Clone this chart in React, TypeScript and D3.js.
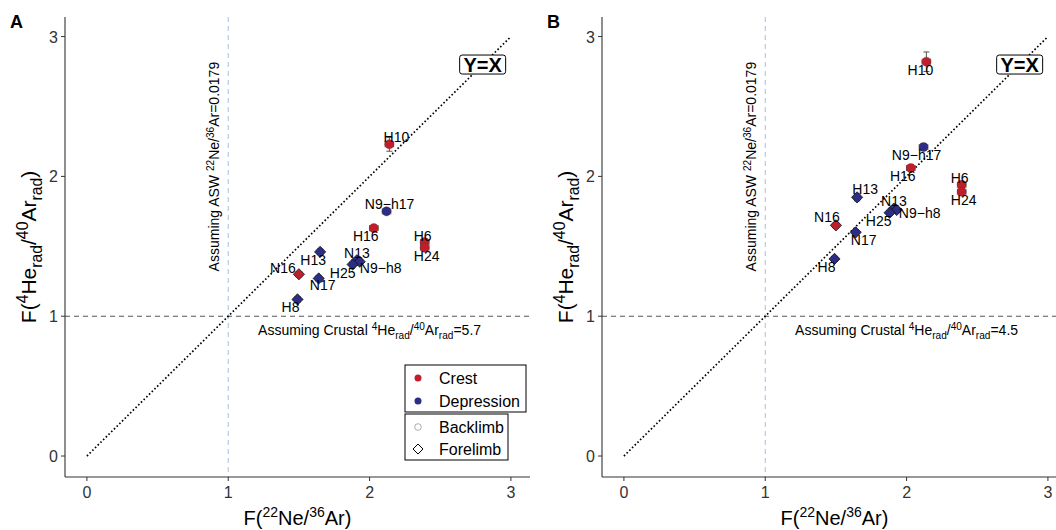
import React from "react";
import * as d3 from "d3";

// sample data
const samples = ["H10", "N9−h17", "H16", "H6", "H24", "H13", "N13", "N9−h8", "H25", "N16", "N17", "H8"];
const location = ["Crest", "Depression", "Crest", "Crest", "Crest", "Depression", "Depression", "Depression", "Depression", "Crest", "Depression", "Depression"];
const limb = ["Backlimb", "Backlimb", "Backlimb", "Backlimb", "Backlimb", "Forelimb", "Forelimb", "Forelimb", "Forelimb", "Forelimb", "Forelimb", "Forelimb"];
const fNe = [2.14, 2.12, 2.03, 2.39, 2.39, 1.65, 1.91, 1.93, 1.88, 1.5, 1.64, 1.49];
const fNeErr = [0.03, 0.03, 0.03, 0.03, 0.03, 0.02, 0.02, 0.02, 0.02, 0.02, 0.02, 0.02];
const fHeA = [2.23, 1.75, 1.63, 1.53, 1.49, 1.46, 1.4, 1.39, 1.37, 1.3, 1.27, 1.12];
const fHeB = [2.82, 2.21, 2.06, 1.94, 1.89, 1.85, 1.77, 1.76, 1.74, 1.65, 1.6, 1.41];
const fHeErrA = [0.05, 0.02, 0.02, 0.02, 0.02, 0.02, 0.01, 0.01, 0.01, 0.01, 0.01, 0.01];
const fHeErrB = [0.07, 0.025, 0.025, 0.025, 0.025, 0.025, 0.015, 0.015, 0.015, 0.015, 0.015, 0.015];
const ticks = [0, 1, 2, 3];

// label nudges in px (repel-like placement)
const nudgeA: Record<string, [number, number]> = {
  "H10": [7, -7], "N9−h17": [3, -7], "H16": [-8, 8], "H6": [-2, -6], "H24": [2, 8], "H13": [-7, 8],
  "N13": [0, -7], "N9−h8": [21, 6], "H25": [-10, 9], "N16": [-16, -6], "N17": [4, 7], "H8": [-7, 8],
};
const nudgeB: Record<string, [number, number]> = {
  "H10": [-6, 8], "N9−h17": [-7, 8], "H16": [-8, 8], "H6": [-2, -7], "H24": [2, 8], "H13": [8, -8],
  "N13": [0, -8], "N9−h8": [23, 3], "H25": [-11, 8], "N16": [-9, -8], "N17": [8, 8], "H8": [-8, 8],
};

const colors: Record<string, string> = { Crest: "#BF1E2B", Depression: "#2C2D84" };
const FONT = "'Liberation Sans', Arial, Helvetica, sans-serif";

type Seg = { t: string; s?: "sup" | "sub" };

function Rich({ segs, fs, k = 0.7, ...rest }: { segs: Seg[]; fs: number; k?: number; [key: string]: any }) {
  let cur = 0;
  return (
    <text fontSize={fs} fontFamily={FONT} {...rest}>
      {segs.map((g, i) => {
        const target = g.s === "sup" ? -0.38 * fs : g.s === "sub" ? 0.28 * fs : 0;
        const dy = target - cur;
        cur = target;
        return (
          <tspan key={i} dy={dy} fontSize={g.s ? fs * k : fs}>
            {g.t}
          </tspan>
        );
      })}
    </text>
  );
}

const neTitle: Seg[] = [{ t: "F(" }, { t: "22", s: "sup" }, { t: "Ne/" }, { t: "36", s: "sup" }, { t: "Ar)" }];
const heTitle: Seg[] = [
  { t: "F(" }, { t: "4", s: "sup" }, { t: "He" }, { t: "rad", s: "sub" }, { t: "/" },
  { t: "40", s: "sup" }, { t: "Ar" }, { t: "rad", s: "sub" }, { t: ")" },
];
const aswNote: Seg[] = [{ t: "Assuming ASW " }, { t: "22", s: "sup" }, { t: "Ne/" }, { t: "36", s: "sup" }, { t: "Ar=0.0179" }];
const crustNote = (v: string): Seg[] => [
  { t: "Assuming Crustal " }, { t: "4", s: "sup" }, { t: "He" }, { t: "rad", s: "sub" }, { t: "/" },
  { t: "40", s: "sup" }, { t: "Ar" }, { t: "rad", s: "sub" }, { t: "=" + v },
];

function diamond(cx: number, cy: number, r: number) {
  return `M${cx},${cy - r}L${cx + r},${cy}L${cx},${cy + r}L${cx - r},${cy}Z`;
}

function Panel({ left, letter, yVals, yErr, crustal, nudge, legend }: {
  left: number; letter: string; yVals: number[]; yErr: number[]; crustal: string;
  nudge: Record<string, [number, number]>; legend: boolean;
}) {
  const x = d3.scaleLinear().domain([-0.155, 3.135]).range([left, left + 465]);
  const y = d3.scaleLinear().domain([-0.15, 3.14]).range([477, 17]);
  const [x0, x1] = x.range();
  const [yb, yt] = y.range();
  const cap = 3;
  return (
    <g>
      <text x={left - 55} y={28} fontSize={18} fontWeight="bold" fontFamily={FONT}>{letter}</text>
      {/* reference lines */}
      <line x1={x(1)} x2={x(1)} y1={yt} y2={yb} stroke="#A9BFD8" strokeDasharray="5,4" strokeWidth={1} />
      <line x1={x0} x2={x1} y1={y(1)} y2={y(1)} stroke="#555" strokeDasharray="5,4" strokeWidth={1.1} />
      <line x1={x(0)} y1={y(0)} x2={x(3)} y2={y(3)} stroke="#000" strokeDasharray="1.6,2.2" strokeWidth={1.7} />
      <Rich segs={aswNote} fs={14} k={0.72} textAnchor="middle" transform={`translate(${x(0.9) + 5},${y(2.07)}) rotate(-90)`} />
      <Rich segs={crustNote(crustal)} fs={14} k={0.72} textAnchor="middle" x={x(2)} y={y(0.9) + 5} />
      {/* Y=X label */}
      <rect x={x(2.8) - 23} y={y(2.8) - 9.5} width={46} height={19} rx={2.5} fill="#fff" stroke="#000" strokeWidth={1} />
      <text x={x(2.8)} y={y(2.8) + 7} textAnchor="middle" fontSize={20} fontWeight="bold" fontFamily={FONT}>Y=X</text>
      {/* axes */}
      <line x1={x0} x2={x0} y1={yb} y2={yt} stroke="#333" strokeWidth={1.1} />
      <line x1={x0} x2={x1} y1={yb} y2={yb} stroke="#333" strokeWidth={1.1} />
      {ticks.map((t) => (
        <g key={"x" + t}>
          <line x1={x(t)} x2={x(t)} y1={yb} y2={yb + 4} stroke="#333" />
          <text x={x(t)} y={yb + 21} textAnchor="middle" fontSize={16} fill="#333" fontFamily={FONT}>{t}</text>
        </g>
      ))}
      {ticks.map((t) => (
        <g key={"y" + t}>
          <line x1={x0 - 4} x2={x0} y1={y(t)} y2={y(t)} stroke="#333" />
          <text x={x0 - 7} y={y(t) + 6} textAnchor="end" fontSize={16} fill="#333" fontFamily={FONT}>{t}</text>
        </g>
      ))}
      <Rich segs={neTitle} fs={20} textAnchor="middle" x={(x0 + x(3.135)) / 2} y={525} />
      <Rich segs={heTitle} fs={21} k={0.75} textAnchor="middle" transform={`translate(${left - 29},${(yb + yt) / 2}) rotate(-90)`} />
      {/* error bars */}
      {samples.map((s, i) => {
        const px = x(fNe[i]), py = y(yVals[i]);
        const xa = x(fNe[i] - fNeErr[i]), xb = x(fNe[i] + fNeErr[i]);
        const ya = y(yVals[i] - yErr[i]), ybb = y(yVals[i] + yErr[i]);
        return (
          <g key={"e" + s} stroke="#444" strokeWidth={0.9}>
            <line x1={xa} x2={xb} y1={py} y2={py} />
            <line x1={xa} x2={xa} y1={py - cap} y2={py + cap} />
            <line x1={xb} x2={xb} y1={py - cap} y2={py + cap} />
            <line x1={px} x2={px} y1={ya} y2={ybb} />
            <line x1={px - cap} x2={px + cap} y1={ya} y2={ya} />
            <line x1={px - cap} x2={px + cap} y1={ybb} y2={ybb} />
          </g>
        );
      })}
      {/* points */}
      {samples.map((s, i) => {
        const px = x(fNe[i]), py = y(yVals[i]);
        const c = colors[location[i]];
        return limb[i] === "Backlimb" ? (
          <circle key={"p" + s} cx={px} cy={py} r={4.6} fill={c} stroke="#7a1a20" strokeWidth={0.3} />
        ) : (
          <path key={"p" + s} d={diamond(px, py, 5.6)} fill={c} stroke="#111" strokeWidth={0.8} />
        );
      })}
      {/* labels */}
      {samples.map((s, i) => {
        const [dx, dy] = nudge[s];
        return (
          <text key={"l" + s} x={x(fNe[i]) + dx} y={y(yVals[i]) + dy + 5} textAnchor="middle" fontSize={14} fontFamily={FONT}>{s}</text>
        );
      })}
      {legend && (
        <g fontFamily={FONT} fontSize={16}>
          <rect x={405} y={365} width={121} height={47} fill="#fff" stroke="#000" strokeWidth={1} />
          <circle cx={418} cy={378} r={3.5} fill={colors.Crest} />
          <text x={439} y={384}>Crest</text>
          <circle cx={418} cy={401} r={3.5} fill={colors.Depression} />
          <text x={439} y={407}>Depression</text>
          <rect x={405} y={414} width={103} height={46} fill="#fff" stroke="#000" strokeWidth={1} />
          <circle cx={418} cy={427} r={3.3} fill="none" stroke="#999" strokeWidth={0.8} />
          <text x={439} y={433}>Backlimb</text>
          <path d={diamond(418, 449, 5)} fill="none" stroke="#000" strokeWidth={1} />
          <text x={439} y={455}>Forelimb</text>
        </g>
      )}
    </g>
  );
}

export default function App() {
  return (
    <svg width={1056} height={530} style={{ position: "absolute", left: 0, top: 0, background: "#fff" }}>
      <rect width={1056} height={530} fill="#fff" />
      <Panel left={65} letter="A" yVals={fHeA} yErr={fHeErrA} crustal="5.7" nudge={nudgeA} legend={true} />
      <Panel left={602} letter="B" yVals={fHeB} yErr={fHeErrB} crustal="4.5" nudge={nudgeB} legend={false} />
    </svg>
  );
}
